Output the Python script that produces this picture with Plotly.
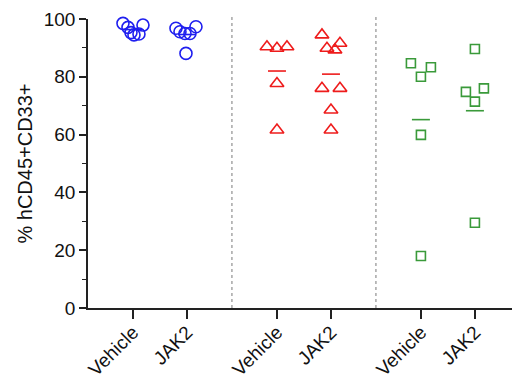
import plotly.graph_objects as go

# Group labels and x positions (pairs of treatments within three cohorts)
tick_labels = ["Vehicle", "JAK2", "Vehicle", "JAK2", "Vehicle", "JAK2"]
positions = [0, 1, 2.667, 3.667, 5.333, 6.333]
separators = [1.833, 4.5]

# % hCD45+CD33+ per animal
blue_vehicle = [98.5, 97.1, 95.3, 94.5, 94.8, 97.9]
blue_jak2 = [96.8, 95.6, 95.0, 95.0, 97.3, 88.1]
red_vehicle = [90.4, 89.9, 90.4, 77.7, 61.6]
red_jak2 = [94.5, 89.9, 89.3, 91.6, 76.0, 76.0, 68.5, 61.6]
green_vehicle = [84.7, 80.0, 83.3, 59.9, 18.0]
green_jak2 = [89.6, 74.8, 76.0, 71.4, 29.5]

# Horizontal spread of overlapping symbols (in pixels from the group centre)
spread_blue_vehicle = [-10, -5, -2, 1, 6, 10]
spread_blue_jak2 = [-11, -7, -2, 3, 9, -1]
spread_red_vehicle = [-10, 0, 10, 0, 0]
spread_red_jak2 = [-9, -4, 4, 9, -9, 9, 0, 0]
spread_green_vehicle = [-10, 0, 10, 0, 0]
spread_green_jak2 = [0, -9, 9, 0, 0]

BLUE = "#1f1fef"
RED = "#ee1c1c"
GREEN = "#3a9a3a"
PX_PER_UNIT = 54.0

groups = [
    (blue_vehicle, spread_blue_vehicle, BLUE, "circle-open", 12),
    (blue_jak2, spread_blue_jak2, BLUE, "circle-open", 12),
    (red_vehicle, spread_red_vehicle, RED, "triangle-up-open", 12),
    (red_jak2, spread_red_jak2, RED, "triangle-up-open", 12),
    (green_vehicle, spread_green_vehicle, GREEN, "square-open", 9),
    (green_jak2, spread_green_jak2, GREEN, "square-open", 9),
]

fig = go.Figure()

for pos, (vals, spread, color, symbol, size) in zip(positions, groups):
    mean = sum(vals) / len(vals)
    half = 9 / PX_PER_UNIT
    fig.add_trace(go.Scatter(
        x=[pos - half, pos + half], y=[mean, mean], mode="lines",
        line=dict(color=color, width=1.6), showlegend=False, hoverinfo="skip",
        cliponaxis=False,
    ))
    fig.add_trace(go.Scatter(
        x=[pos + s / PX_PER_UNIT for s in spread], y=vals, mode="markers",
        marker=dict(symbol=symbol, size=size, color=color,
                    line=dict(color=color, width=1.6)),
        showlegend=False, cliponaxis=False,
    ))

for sx in separators:
    fig.add_shape(type="line", x0=sx, x1=sx, y0=0, y1=1.01, xref="x", yref="paper",
                  line=dict(color="#7a7a7a", width=1, dash="dot"))

font_family = "Liberation Sans, Arial, sans-serif"

fig.update_layout(
    width=512, height=380,
    margin=dict(l=88, r=0, t=19, b=72),
    plot_bgcolor="white", paper_bgcolor="white",
    font=dict(family=font_family, color="#111111"),
    xaxis=dict(
        range=[-0.833, 7.02], tickmode="array", tickvals=positions, ticktext=tick_labels,
        tickangle=-45, tickfont=dict(size=19, family=font_family, color="#111111"),
        ticklabelstandoff=-5,
        showline=True, linecolor="#222222", linewidth=1.6,
        ticks="outside", ticklen=9, tickwidth=1.6, tickcolor="#222222",
        showgrid=False, zeroline=False, automargin=False,
    ),
    yaxis=dict(
        range=[0, 100], tickvals=[0, 20, 40, 60, 80, 100],
        tickfont=dict(size=19, family=font_family, color="#111111"),
        showline=True, linecolor="#222222", linewidth=1.6,
        ticks="outside", ticklen=7, tickwidth=1.6, tickcolor="#222222",
        minor=dict(tickvals=[10, 30, 50, 70, 90], ticks="outside", ticklen=4,
                   tickwidth=1.4, tickcolor="#222222"),
        showgrid=False, zeroline=False, automargin=False,
        title=dict(text="% hCD45+CD33+", font=dict(size=20, family=font_family, color="#111111"),
                   standoff=6),
    ),
)

fig.write_html("out.html")
